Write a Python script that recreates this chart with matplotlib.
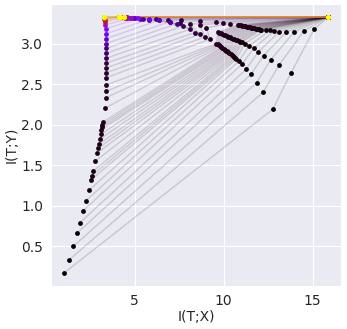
import matplotlib
matplotlib.use('Agg')
import matplotlib.pyplot as plt
import seaborn as sns
import numpy as np

sns.set_style('darkgrid')

# epochs at which the info-plane was measured
epochs = [0, 1, 2, 3, 4, 5, 6, 7, 8, 9, 10, 11, 12, 13, 14, 15, 16, 17, 18, 19, 20, 21, 22, 23, 24,
          27, 30, 34, 40, 48, 60, 80, 110, 150, 200, 270, 350,
          450, 500, 550, 600, 650, 700, 750, 800, 850, 900, 950, 1000]

# layer 1 (closest to input) stays put
l1_x = 15.86
l1_y = 3.325

# layer 2
l2_x = [15.10, 14.50, 13.98, 13.53, 13.14, 12.86, 12.62, 12.36,
        12.13, 12.05, 11.97, 11.89, 11.80, 11.72, 11.63, 11.55, 11.46, 11.38, 11.30, 11.21, 11.13, 11.04, 10.96, 10.88, 10.79,
        10.35, 9.96, 9.60, 8.67, 7.60, 6.90, 6.20, 5.50, 5.00, 4.75, 4.60, 4.50,
        4.45, 4.42, 4.40, 4.40, 4.40, 4.40, 4.40, 4.40, 4.40, 4.40, 4.40, 4.40]
l2_y = [3.180, 3.153, 3.146, 3.143, 3.148, 3.156, 3.162, 3.165,
        3.168, 3.171, 3.174, 3.178, 3.182, 3.186, 3.190, 3.194, 3.198, 3.203, 3.207, 3.211, 3.215, 3.219, 3.223, 3.228, 3.232,
        3.245, 3.257, 3.266, 3.278, 3.285, 3.292, 3.298, 3.305, 3.312, 3.318, 3.324, 3.328,
        3.330, 3.330, 3.330, 3.330, 3.330, 3.330, 3.330, 3.330, 3.330, 3.330, 3.330, 3.330]

# layer 3
l3_x = [13.77, 13.12, 12.65, 12.25, 11.96, 11.69, 11.44, 11.18,
        11.02, 10.94, 10.85, 10.77, 10.69, 10.60, 10.52, 10.44, 10.35, 10.27, 10.19, 10.10, 10.02, 9.94, 9.85, 9.77, 9.68,
        9.04, 8.67, 8.11, 7.55, 7.00, 6.40, 5.80, 5.30, 4.90, 4.60, 4.45, 4.35,
        4.30, 4.25, 4.22, 4.20, 4.20, 4.20, 4.20, 4.20, 4.20, 4.20, 4.20, 4.20]
l3_y = [2.632, 2.735, 2.800, 2.852, 2.898, 2.941, 2.972, 3.000,
        3.015, 3.023, 3.031, 3.038, 3.046, 3.054, 3.062, 3.070, 3.077, 3.085, 3.093, 3.101, 3.109, 3.116, 3.124, 3.132, 3.140,
        3.196, 3.225, 3.238, 3.257, 3.270, 3.285, 3.295, 3.305, 3.310, 3.315, 3.320, 3.325,
        3.330, 3.330, 3.330, 3.330, 3.330, 3.330, 3.330, 3.330, 3.330, 3.330, 3.330, 3.330]

# layer 4
l4_x = [12.77, 12.22, 11.85, 11.54, 11.25, 11.03, 10.85,
        10.72, 10.66, 10.59, 10.53, 10.46, 10.40, 10.33, 10.27, 10.20, 10.14, 10.07, 10.01, 9.94, 9.88, 9.81, 9.74, 9.67, 9.60,
        9.23, 8.95, 8.67, 8.39, 8.11, 7.74, 7.37, 6.99, 6.40, 5.80, 5.20, 4.80,
        4.50, 4.30, 4.20, 4.15, 4.10, 4.10, 4.10, 4.10, 4.10, 4.10, 4.10, 4.10]
l4_y = [2.191, 2.398, 2.515, 2.619, 2.680, 2.745, 2.782,
        2.810, 2.822, 2.834, 2.846, 2.858, 2.869, 2.880, 2.891, 2.902, 2.913, 2.924, 2.935, 2.946, 2.957, 2.968, 2.978, 2.989, 3.000,
        3.054, 3.082, 3.115, 3.135, 3.176, 3.217, 3.245, 3.270, 3.290, 3.300, 3.310, 3.315,
        3.320, 3.325, 3.330, 3.330, 3.330, 3.330, 3.330, 3.330, 3.330, 3.330, 3.330, 3.330]

# layer 5 (last hidden layer)
l5_x = [1.03, 1.31, 1.56, 1.76, 1.93, 2.12, 2.26, 2.43, 2.56, 2.60, 2.69, 2.80, 2.90, 2.97, 3.01, 3.04, 3.10, 3.14, 3.18, 3.20,
        3.21, 3.32, 3.38, 3.40, 3.42,
        3.42, 3.42, 3.42, 3.42, 3.42, 3.41, 3.41, 3.40, 3.40, 3.39, 3.38, 3.36,
        3.34, 3.32, 3.30, 3.29, 3.28, 3.28, 3.28, 3.28, 3.28, 3.28, 3.28, 3.28]
l5_y = [0.17, 0.33, 0.50, 0.66, 0.79, 0.94, 1.06, 1.19, 1.32, 1.37, 1.43, 1.55, 1.65, 1.71, 1.76, 1.82, 1.88, 1.94, 1.97, 2.00,
        2.03, 2.20, 2.33, 2.41, 2.49,
        2.58, 2.64, 2.70, 2.76, 2.82, 2.88, 2.94, 3.00, 3.06, 3.12, 3.18, 3.23,
        3.27, 3.29, 3.30, 3.31, 3.32, 3.32, 3.33, 3.33, 3.33, 3.33, 3.33, 3.33]

cmap = plt.get_cmap('gnuplot')
colors = np.array(epochs) / max(epochs)

fig = plt.figure(figsize=(3.47, 3.29), dpi=100)
ax = fig.add_axes([0.146, 0.131, 0.837, 0.857])

for i in range(len(epochs)):
    xs = [l1_x, l2_x[i], l3_x[i], l4_x[i], l5_x[i]]
    ys = [l1_y, l2_y[i], l3_y[i], l4_y[i], l5_y[i]]
    c = cmap(colors[i])
    ax.plot(xs, ys, '-', color=c, alpha=0.15, lw=1.0)
    ax.scatter(xs, ys, s=12, color=c, lw=0, zorder=3)

ax.set_xlabel('I(T;X)', fontsize=10, labelpad=2)
ax.set_ylabel('I(T;Y)', fontsize=10, labelpad=2)
ax.tick_params(labelsize=10, pad=2)
ax.set_xticks([5, 10, 15])

plt.savefig('out.png', dpi=100)
